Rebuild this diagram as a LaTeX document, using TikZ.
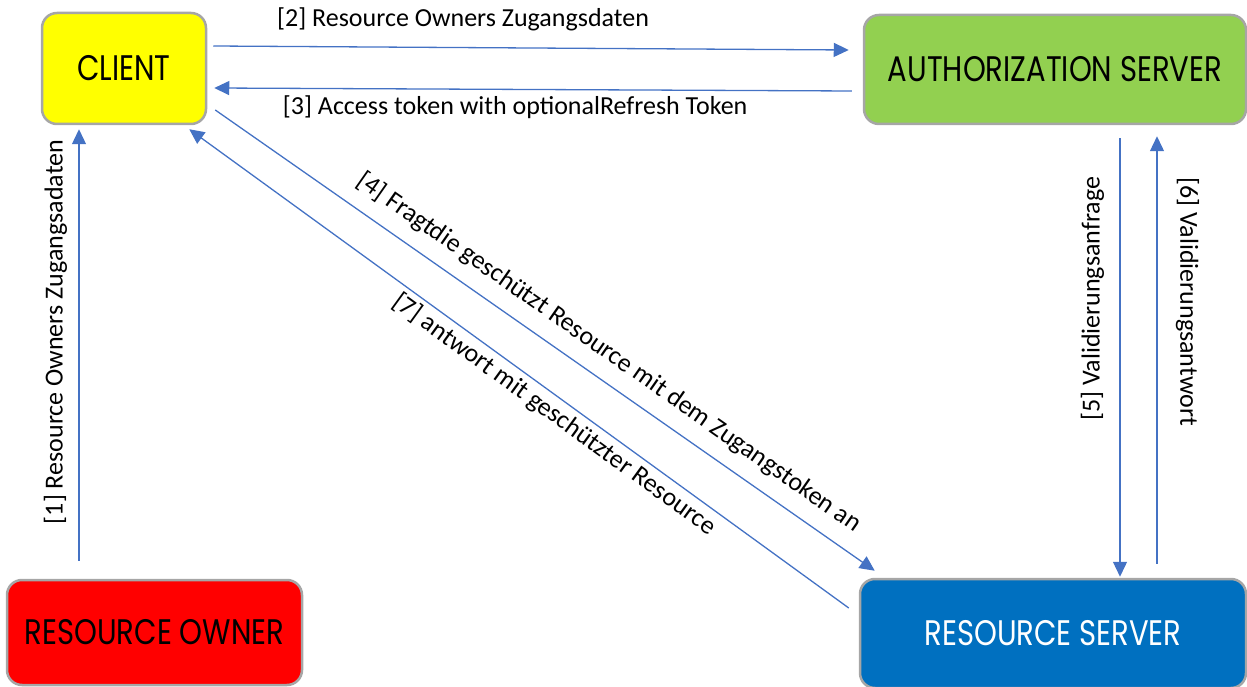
\documentclass[tikz,border=0pt]{standalone}
\usepackage{fontspec}
\setmainfont{Carlito}
\newfontfamily\boxfont[FakeStretch=0.82]{Poppins}
\usetikzlibrary{arrows.meta,calc,positioning}
\definecolor{flowblue}{HTML}{4472C4}
\definecolor{boxgray}{HTML}{A6A6A6}
\definecolor{clientyellow}{HTML}{FFFF00}
\definecolor{authgreen}{HTML}{92D050}
\definecolor{ownerred}{HTML}{FF0000}
\definecolor{rsblue}{HTML}{0070C0}
\newcommand{\lblsize}{\fontsize{26pt}{30pt}\selectfont}
\newcommand{\actorsize}{\boxfont\fontsize{35.5pt}{40pt}\selectfont}
\tikzset{
  flarr/.style={-{Triangle[length=15pt,width=14pt]}, draw=flowblue, line width=1.3pt},
  actor/.style={draw=boxgray, line width=2.5pt, rounded corners=15pt, inner sep=0pt, font=\actorsize},
  lbl/.style={inner sep=0pt, font=\lblsize}
}

\begin{document}
\begin{tikzpicture}[x=1pt,y=1pt]
  \useasboundingbox (0,0) rectangle (1247,686);
  \node[actor, fill=clientyellow, minimum width=164pt, minimum height=111pt] (client) at (124,617.5) {CLIENT};
  \node[actor, fill=authgreen, minimum width=382pt, minimum height=109pt] (auth) at (1055,616.5) {AUTHORIZATION SERVER};
  \node[actor, fill=ownerred, minimum width=295pt, minimum height=105pt] (owner) at (154.5,53.5) {RESOURCE OWNER};
  \node[actor, fill=rsblue, text=white, minimum width=386pt, minimum height=109pt] (rs) at (1053,52.5) {RESOURCE SERVER};

  \draw[flarr] ([shift={(-75.5,18)}]owner.north) -- node[lbl, pos=.53, rotate=90, anchor=south, outer sep=12pt] {[1] Resource Owners Zugangsadaten} ([shift={(-45,-4)}]client.south);
  \draw[flarr] ([shift={(6,22.5)}]client.east) -- node[lbl, pos=.393, anchor=south, outer sep=16.6pt] {[2] Resource Owners Zugangsdaten} ([shift={(-14,19.5)}]auth.west);
  \draw[flarr] ([shift={(-11,-21.5)}]auth.west) -- node[lbl, pos=.528, anchor=north, outer sep=6.6pt] {[3] Access token with optionalRefresh Token} ([shift={(7,-19.5)}]client.east);
  \draw[flarr] ([shift={(8,-41.5)}]client.east) -- node[lbl, pos=.574, sloped, anchor=south, outer sep=15pt] {[4] Fragtdie geschützt Resource mit dem Zugangstoken an} ([shift={(16,7)}]rs.north west);
  \draw[flarr] ([shift={(65,-13)}]auth.south) -- node[lbl, pos=.366, rotate=90, anchor=south, outer sep=16pt] {[5] Validierungsanfrage} ([shift={(67,1)}]rs.north);
  \draw[flarr] ([shift={(104,14)}]rs.north) -- node[lbl, pos=.613, rotate=-90, anchor=south, outer sep=19pt] {[6] Validierungsantwort} ([shift={(102,-11)}]auth.south);
  \draw[flarr] ([shift={(-10,25.5)}]rs.west) -- node[lbl, pos=.432, sloped, anchor=north, outer sep=5pt] {[7] antwort mit geschützter Resource} ([shift={(-18,-4)}]client.south east);
\end{tikzpicture}
\end{document}
